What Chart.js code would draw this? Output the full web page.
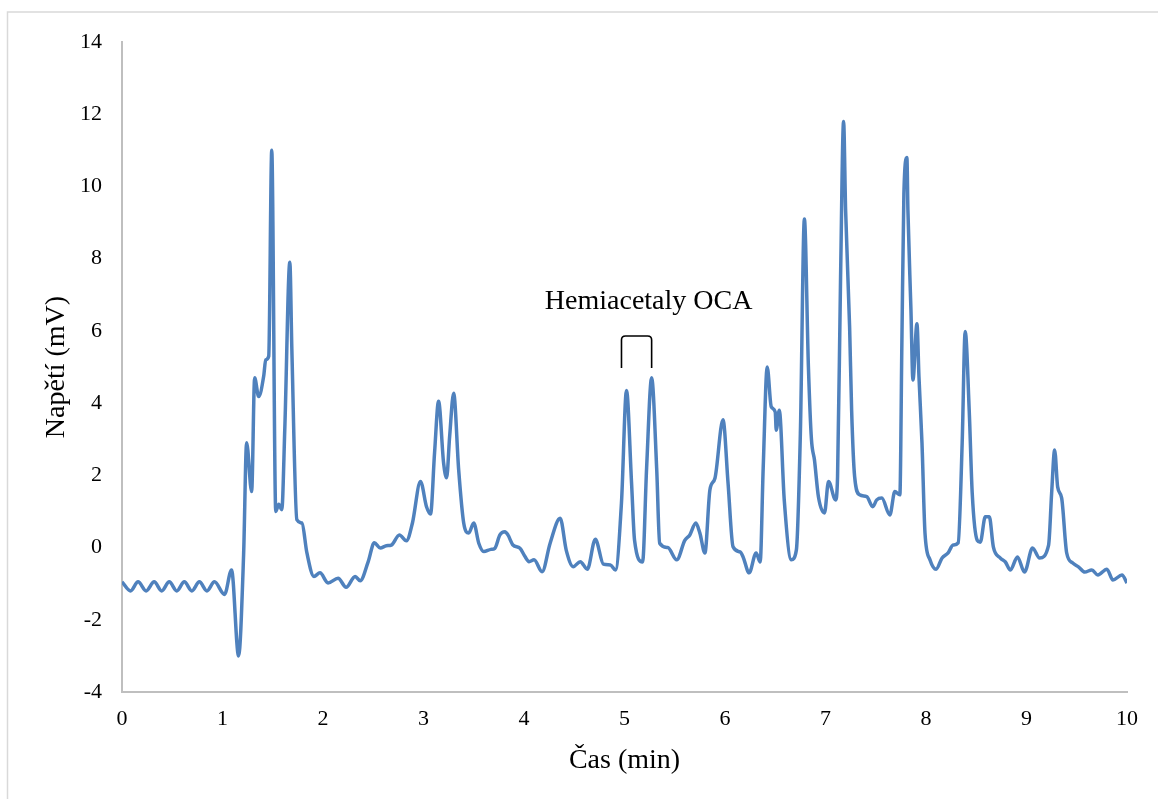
<!DOCTYPE html>
<html>
<head>
<meta charset="utf-8">
<script src="https://cdn.jsdelivr.net/npm/chart.js@4"></script>
<style>
html,body{margin:0;padding:0;background:#fff;}
#wrap{position:relative;width:1158px;height:799px;}
</style>
</head>
<body>
<div id="wrap"><canvas id="c" width="1158" height="799"></canvas></div>
<script>
// ---- data ----
const times = [
 0.00,0.085,0.16,0.24,0.32,0.395,0.47,0.545,0.62,0.695,0.77,0.845,0.92,
 1.02,1.09,1.16,1.21,1.24,1.29,1.32,1.36,1.41,1.43,1.46,1.49,1.53,1.56,1.59,1.62,1.67,1.69,
 1.74,1.79,1.84,1.91,1.97,2.05,2.15,2.23,2.32,2.37,2.45,2.51,2.57,2.63,2.68,2.76,2.83,2.89,
 2.97,3.03,3.07,3.11,3.15,3.20,3.23,3.26,3.30,3.35,3.40,3.45,3.50,3.55,3.60,3.67,3.71,3.76,
 3.81,3.84,3.89,3.96,4.01,4.05,4.10,4.18,4.26,4.36,4.42,4.49,4.56,4.63,4.71,4.79,4.86,4.91,
 4.97,5.02,5.07,5.10,5.18,5.22,5.27,5.32,5.35,5.43,5.52,5.60,5.65,5.71,5.75,5.80,5.85,5.90,
 5.98,6.03,6.08,6.15,6.18,6.24,6.31,6.35,6.38,6.42,6.46,6.50,6.51,6.54,6.59,6.66,6.71,6.75,
 6.79,6.83,6.86,6.89,6.93,6.99,7.03,7.10,7.12,7.15,7.18,7.20,7.24,7.26,7.29,7.34,7.41,7.47,
 7.51,7.56,7.64,7.69,7.74,7.76,7.78,7.81,7.82,7.85,7.87,7.91,7.93,7.96,7.99,8.04,8.10,8.16,
 8.22,8.27,8.32,8.36,8.39,8.43,8.46,8.51,8.54,8.59,8.63,8.67,8.74,8.79,8.84,8.91,8.98,9.06,
 9.13,9.22,9.25,9.28,9.31,9.35,9.40,9.46,9.52,9.58,9.65,9.71,9.80,9.86,9.95,10.00
];
const voltage = [
 -0.95,-1.2,-0.95,-1.2,-0.95,-1.2,-0.95,-1.2,-0.95,-1.2,-0.95,-1.2,-0.95,
 -1.3,-0.62,-3.0,-0.2,2.9,1.55,4.7,4.18,4.75,5.2,5.3,11.0,1.0,1.2,1.05,3.3,7.9,5.5,
 0.77,0.68,-0.15,-0.8,-0.7,-0.98,-0.85,-1.1,-0.8,-0.92,-0.39,0.13,-0.01,0.05,0.07,0.35,0.19,0.68,
 1.83,1.13,0.93,2.62,4.05,2.34,1.93,3.07,4.27,2.15,0.68,0.4,0.68,0.12,-0.11,-0.05,-0.02,0.35,
 0.44,0.35,0.07,-0.02,-0.25,-0.39,-0.34,-0.67,0.12,0.81,-0.07,-0.53,-0.39,-0.6,0.23,-0.46,-0.48,-0.62,
 1.25,4.35,1.8,0.2,-0.4,2.2,4.7,2.2,0.12,0.0,-0.34,0.2,0.35,0.68,0.4,-0.15,1.6,1.92,
 3.54,1.8,0.02,-0.12,-0.26,-0.7,-0.15,-0.4,2.2,5.0,3.9,3.75,3.25,3.8,1.3,-0.34,-0.07,3.17,
 9.1,5.0,3.0,2.43,1.4,0.96,1.83,1.32,1.96,7.5,11.8,9.35,6.1,3.8,1.96,1.46,1.41,1.13,
 1.32,1.37,0.9,1.55,1.46,5.67,9.8,10.8,9.35,6.6,4.64,6.2,4.73,2.9,0.4,-0.34,-0.6,-0.29,
 -0.15,0.07,0.13,2.9,5.98,3.8,1.5,0.2,0.15,0.85,0.85,0.02,-0.29,-0.4,-0.62,-0.26,-0.68,-0.01,
 -0.29,0.07,1.5,2.7,1.68,1.37,-0.15,-0.43,-0.54,-0.68,-0.62,-0.76,-0.6,-0.9,-0.76,-0.98
];
const xTitle = 'Čas (min)';
const yTitle = 'Napětí (mV)';
const annotationText = 'Hemiacetaly OCA';
// annotation anchor in data units
const bracketX = [4.97, 5.27];
const bracketY = [4.97, 5.86];
const annotX = 5.24, annotY = 6.62;

const points = times.map((t, i) => ({x: t, y: voltage[i]}));
const SERIF = '"Liberation Serif", "Times New Roman", serif';

const framePlugin = {
  id: 'frame',
  afterDraw(chart) {
    const ctx = chart.ctx;
    ctx.save();
    ctx.strokeStyle = '#d9d9d9';
    ctx.lineWidth = 1.5;
    ctx.beginPath();
    ctx.moveTo(7.5, 1200);
    ctx.lineTo(7.5, 12);
    ctx.lineTo(1300, 12);
    ctx.stroke();
    // annotation
    const xs = chart.scales.x, ys = chart.scales.y;
    const x1 = xs.getPixelForValue(bracketX[0]);
    const x2 = xs.getPixelForValue(bracketX[1]);
    const yb = ys.getPixelForValue(bracketY[0]);
    const yt = ys.getPixelForValue(bracketY[1]);
    const r = 4;
    ctx.strokeStyle = '#000';
    ctx.lineWidth = 1.6;
    ctx.beginPath();
    ctx.moveTo(x1, yb);
    ctx.lineTo(x1, yt + r);
    ctx.quadraticCurveTo(x1, yt, x1 + r, yt);
    ctx.lineTo(x2 - r, yt);
    ctx.quadraticCurveTo(x2, yt, x2, yt + r);
    ctx.lineTo(x2, yb);
    ctx.stroke();
    ctx.fillStyle = '#000';
    ctx.font = '28px ' + SERIF;
    ctx.textAlign = 'center';
    ctx.textBaseline = 'alphabetic';
    ctx.fillText(annotationText, xs.getPixelForValue(annotX), ys.getPixelForValue(annotY));
    ctx.restore();
  }
};

new Chart(document.getElementById('c'), {
  type: 'line',
  data: {
    datasets: [{
      data: points,
      borderColor: '#4f81bd',
      borderWidth: 3.5,
      pointRadius: 0,
      fill: false,
      cubicInterpolationMode: 'monotone'
    }]
  },
  options: {
    responsive: false,
    animation: false,
    devicePixelRatio: 1,
    layout: {padding: {left: 0, top: 42, right: 31, bottom: 0}},
    plugins: {legend: {display: false}, tooltip: {enabled: false}},
    scales: {
      x: {
        type: 'linear', min: 0, max: 10,
        ticks: {stepSize: 1, padding: 14, color: '#000', font: {family: SERIF, size: 22}, maxRotation: 0},
        grid: {display: true, drawOnChartArea: false, drawTicks: false, color: '#bfbfbf'},
        border: {display: true, color: '#bfbfbf', width: 2},
        title: {display: true, text: xTitle, color: '#000', font: {family: SERIF, size: 28}, padding: {top: 22, bottom: 22}},
        afterFit(s) { s.height = 107; }
      },
      y: {
        type: 'linear', min: -4, max: 14,
        ticks: {stepSize: 2, padding: 20, color: '#000', font: {family: SERIF, size: 22}},
        grid: {display: true, drawOnChartArea: false, drawTicks: false, color: '#bfbfbf'},
        border: {display: true, color: '#bfbfbf', width: 2},
        title: {display: true, text: yTitle, color: '#000', font: {family: SERIF, size: 28}, padding: {top: 40, bottom: 0}},
        afterFit(s) { s.width = 122; }
      }
    }
  },
  plugins: [framePlugin]
});
</script>
</body>
</html>
